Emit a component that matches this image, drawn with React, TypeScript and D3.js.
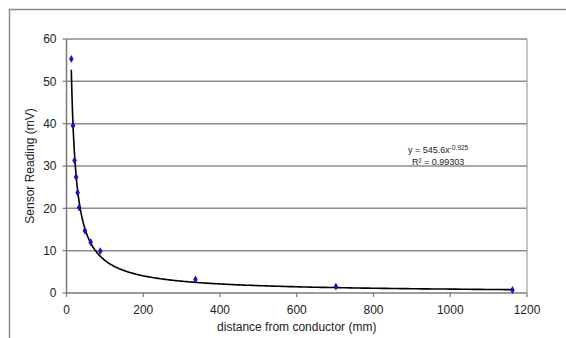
import React from "react";
import * as d3 from "d3";

const distances = [12.5, 17, 21, 25, 29, 33, 48, 63, 88, 336, 702, 1162];
const readings = [55.3, 39.5, 31.3, 27.4, 23.7, 20.2, 14.7, 12.0, 9.9, 3.2, 1.5, 0.7];
const xTicks = [0, 200, 400, 600, 800, 1000, 1200];
const yTicks = [0, 10, 20, 30, 40, 50, 60];
const trendCoef = [545.6, -0.925];
const rSquared = "0.99303";

const W = 566;
const H = 338;
const left = 66.5;
const right = 527;
const top = 39;
const bottom = 293;

export default function App() {
  const x = d3.scaleLinear().domain([0, 1200]).range([left, right]);
  const y = d3.scaleLinear().domain([0, 60]).range([bottom, top]);

  const xMin = d3.min(distances) as number;
  const xMax = d3.max(distances) as number;
  const trendXs = d3.range(0, 301).map((i) => xMin * Math.pow(xMax / xMin, i / 300));
  const line = d3
    .line<number>()
    .x((d) => x(d))
    .y((d) => y(trendCoef[0] * Math.pow(d, trendCoef[1])))
    .curve(d3.curveLinear);

  const diamond = d3.symbol().type(d3.symbolDiamond).size(18)() as string;
  const font = "Liberation Sans, Arial, sans-serif";

  return (
    <svg
      width={W}
      height={H}
      style={{ position: "absolute", left: 0, top: 0, background: "#fff" }}
    >
      {/* outer frame */}
      <line x1={9} x2={W} y1={9.5} y2={9.5} stroke="#8a8a8a" strokeWidth={1.5} />
      <line x1={9.5} x2={9.5} y1={9} y2={H} stroke="#8a8a8a" strokeWidth={1.5} />

      {/* gridlines */}
      {yTicks.filter((t) => t > 0).map((t) => (
        <line key={t} x1={left} x2={right} y1={y(t)} y2={y(t)} stroke="#8c8c8c" strokeWidth={1.5} />
      ))}
      {/* plot area right border */}
      <line x1={right} x2={right} y1={top} y2={bottom} stroke="#a0a0a0" strokeWidth={1.2} />

      {/* axes */}
      <line x1={left} x2={left} y1={top} y2={bottom} stroke="#7a7a7a" strokeWidth={1.5} />
      <line x1={left} x2={right} y1={bottom} y2={bottom} stroke="#7a7a7a" strokeWidth={1.5} />
      {yTicks.map((t) => (
        <g key={"y" + t}>
          <line x1={left - 4} x2={left} y1={y(t)} y2={y(t)} stroke="#7a7a7a" strokeWidth={1.2} />
          <text x={left - 10} y={y(t)} dy="0.35em" textAnchor="end" fontFamily={font} fontSize={12} fill="#222">
            {t}
          </text>
        </g>
      ))}
      {xTicks.map((t) => (
        <g key={"x" + t}>
          <line x1={x(t)} x2={x(t)} y1={bottom} y2={bottom + 4} stroke="#7a7a7a" strokeWidth={1.2} />
          <text x={x(t)} y={bottom + 17} dy="0.35em" textAnchor="middle" fontFamily={font} fontSize={12} fill="#222">
            {t}
          </text>
        </g>
      ))}

      {/* axis labels */}
      <text
        transform={`translate(30,${(top + bottom) / 2}) rotate(-90)`}
        textAnchor="middle"
        dy="0.35em"
        fontFamily={font}
        fontSize={12}
        fill="#222"
      >
        Sensor Reading (mV)
      </text>
      <text x={(left + right) / 2} y={327} dy="0.35em" textAnchor="middle" fontFamily={font} fontSize={12} fill="#222">
        distance from conductor (mm)
      </text>

      {/* trendline */}
      <path d={line(trendXs) || ""} fill="none" stroke="#000" strokeWidth={1.6} />

      {/* points */}
      {distances.map((d, i) => (
        <path key={i} d={diamond} transform={`translate(${x(d)},${y(readings[i])})`} fill="#1414c0" />
      ))}

      {/* equation */}
      <text x={408} y={153} fontFamily={font} fontSize={9} fill="#222">
        y = {trendCoef[0]}x
        <tspan dy={-3} fontSize={6.5}>{trendCoef[1]}</tspan>
      </text>
      <text x={412} y={164.5} fontFamily={font} fontSize={9} fill="#222">
        R² = {rSquared}
      </text>
    </svg>
  );
}
